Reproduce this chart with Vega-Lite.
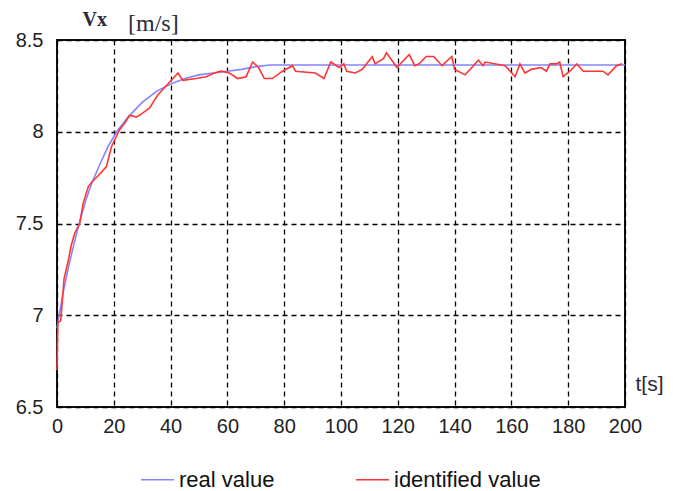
{
  "$schema": "https://vega.github.io/schema/vega-lite/v6.json",
  "width": 568,
  "height": 367,
  "autosize": {"type": "none"},
  "padding": {"left": 57, "top": 40, "right": 48, "bottom": 84},
  "background": "white",
  "title": {
    "text": "[m/s]",
    "anchor": "start",
    "frame": "group",
    "orient": "top",
    "font": "Liberation Serif",
    "fontSize": 24,
    "fontWeight": "normal",
    "color": "#2a2a3a",
    "baseline": "alphabetic",
    "offset": -46,
    "dx": 71
  },
  "config": {
    "font": "Liberation Sans",
    "view": {"stroke": "#111", "strokeWidth": 2},
    "axis": {
      "labelFont": "Liberation Sans",
      "labelFontSize": 20,
      "labelColor": "#222",
      "labelFlush": false,
      "ticks": false,
      "tickSize": 0,
      "domain": false,
      "grid": true,
      "gridColor": "#000",
      "gridDash": [5, 4],
      "gridWidth": 1.3,
      "gridOpacity": 1
    }
  },
  "data": {
    "values": [
      {"t": 0, "v": 6.93, "s": "real value"},
      {"t": 1, "v": 7.02, "s": "real value"},
      {"t": 2, "v": 7.11, "s": "real value"},
      {"t": 4, "v": 7.26, "s": "real value"},
      {"t": 6, "v": 7.39, "s": "real value"},
      {"t": 8, "v": 7.51, "s": "real value"},
      {"t": 10, "v": 7.62, "s": "real value"},
      {"t": 12, "v": 7.71, "s": "real value"},
      {"t": 15, "v": 7.82, "s": "real value"},
      {"t": 18, "v": 7.92, "s": "real value"},
      {"t": 21, "v": 8.0, "s": "real value"},
      {"t": 25, "v": 8.08, "s": "real value"},
      {"t": 30, "v": 8.16, "s": "real value"},
      {"t": 35, "v": 8.22, "s": "real value"},
      {"t": 40, "v": 8.26, "s": "real value"},
      {"t": 45, "v": 8.29, "s": "real value"},
      {"t": 50, "v": 8.31, "s": "real value"},
      {"t": 55, "v": 8.32, "s": "real value"},
      {"t": 60, "v": 8.33, "s": "real value"},
      {"t": 65, "v": 8.34, "s": "real value"},
      {"t": 70, "v": 8.355, "s": "real value"},
      {"t": 75, "v": 8.364, "s": "real value"},
      {"t": 100, "v": 8.364, "s": "real value"},
      {"t": 150, "v": 8.364, "s": "real value"},
      {"t": 200, "v": 8.364, "s": "real value"},
      {"t": 0, "v": 6.70, "s": "identified value"},
      {"t": 0.3, "v": 6.96, "s": "identified value"},
      {"t": 1.3, "v": 6.97, "s": "identified value"},
      {"t": 2.5, "v": 7.20, "s": "identified value"},
      {"t": 4, "v": 7.30, "s": "identified value"},
      {"t": 5, "v": 7.38, "s": "identified value"},
      {"t": 6.3, "v": 7.45, "s": "identified value"},
      {"t": 8, "v": 7.50, "s": "identified value"},
      {"t": 9.2, "v": 7.61, "s": "identified value"},
      {"t": 11, "v": 7.70, "s": "identified value"},
      {"t": 12.5, "v": 7.73, "s": "identified value"},
      {"t": 14.5, "v": 7.76, "s": "identified value"},
      {"t": 17.4, "v": 7.81, "s": "identified value"},
      {"t": 19.2, "v": 7.92, "s": "identified value"},
      {"t": 22, "v": 8.01, "s": "identified value"},
      {"t": 24, "v": 8.05, "s": "identified value"},
      {"t": 25.6, "v": 8.09, "s": "identified value"},
      {"t": 28, "v": 8.08, "s": "identified value"},
      {"t": 30, "v": 8.10, "s": "identified value"},
      {"t": 32.6, "v": 8.13, "s": "identified value"},
      {"t": 35.5, "v": 8.20, "s": "identified value"},
      {"t": 39.6, "v": 8.27, "s": "identified value"},
      {"t": 42.6, "v": 8.32, "s": "identified value"},
      {"t": 44.3, "v": 8.28, "s": "identified value"},
      {"t": 49, "v": 8.29, "s": "identified value"},
      {"t": 52.5, "v": 8.30, "s": "identified value"},
      {"t": 55.4, "v": 8.32, "s": "identified value"},
      {"t": 57.8, "v": 8.33, "s": "identified value"},
      {"t": 60.7, "v": 8.32, "s": "identified value"},
      {"t": 63.6, "v": 8.29, "s": "identified value"},
      {"t": 66.6, "v": 8.30, "s": "identified value"},
      {"t": 68.9, "v": 8.38, "s": "identified value"},
      {"t": 71, "v": 8.35, "s": "identified value"},
      {"t": 73, "v": 8.29, "s": "identified value"},
      {"t": 75.8, "v": 8.29, "s": "identified value"},
      {"t": 79.4, "v": 8.33, "s": "identified value"},
      {"t": 82.9, "v": 8.36, "s": "identified value"},
      {"t": 84, "v": 8.33, "s": "identified value"},
      {"t": 91, "v": 8.32, "s": "identified value"},
      {"t": 94, "v": 8.29, "s": "identified value"},
      {"t": 96.4, "v": 8.38, "s": "identified value"},
      {"t": 99.3, "v": 8.35, "s": "identified value"},
      {"t": 101, "v": 8.37, "s": "identified value"},
      {"t": 102, "v": 8.33, "s": "identified value"},
      {"t": 105, "v": 8.32, "s": "identified value"},
      {"t": 107.5, "v": 8.34, "s": "identified value"},
      {"t": 111, "v": 8.41, "s": "identified value"},
      {"t": 112, "v": 8.37, "s": "identified value"},
      {"t": 115, "v": 8.40, "s": "identified value"},
      {"t": 116, "v": 8.43, "s": "identified value"},
      {"t": 119.7, "v": 8.35, "s": "identified value"},
      {"t": 121.5, "v": 8.38, "s": "identified value"},
      {"t": 124, "v": 8.42, "s": "identified value"},
      {"t": 126, "v": 8.36, "s": "identified value"},
      {"t": 127.5, "v": 8.37, "s": "identified value"},
      {"t": 130, "v": 8.41, "s": "identified value"},
      {"t": 132.6, "v": 8.41, "s": "identified value"},
      {"t": 135.6, "v": 8.36, "s": "identified value"},
      {"t": 139, "v": 8.41, "s": "identified value"},
      {"t": 140, "v": 8.34, "s": "identified value"},
      {"t": 143.7, "v": 8.31, "s": "identified value"},
      {"t": 148.4, "v": 8.39, "s": "identified value"},
      {"t": 150, "v": 8.36, "s": "identified value"},
      {"t": 150.8, "v": 8.38, "s": "identified value"},
      {"t": 157.8, "v": 8.36, "s": "identified value"},
      {"t": 159, "v": 8.34, "s": "identified value"},
      {"t": 161.3, "v": 8.30, "s": "identified value"},
      {"t": 163, "v": 8.37, "s": "identified value"},
      {"t": 164.8, "v": 8.32, "s": "identified value"},
      {"t": 167, "v": 8.34, "s": "identified value"},
      {"t": 170.5, "v": 8.35, "s": "identified value"},
      {"t": 172.3, "v": 8.33, "s": "identified value"},
      {"t": 173.6, "v": 8.37, "s": "identified value"},
      {"t": 175.8, "v": 8.37, "s": "identified value"},
      {"t": 177, "v": 8.38, "s": "identified value"},
      {"t": 178.2, "v": 8.30, "s": "identified value"},
      {"t": 180.6, "v": 8.33, "s": "identified value"},
      {"t": 183, "v": 8.37, "s": "identified value"},
      {"t": 185.3, "v": 8.33, "s": "identified value"},
      {"t": 192.3, "v": 8.33, "s": "identified value"},
      {"t": 194, "v": 8.31, "s": "identified value"},
      {"t": 197, "v": 8.36, "s": "identified value"},
      {"t": 199, "v": 8.37, "s": "identified value"}
    ]
  },
  "mark": {"type": "line", "strokeWidth": 1.6},
  "encoding": {
    "x": {
      "field": "t",
      "type": "quantitative",
      "scale": {"domain": [0, 200], "nice": false},
      "axis": {
        "values": [0, 20, 40, 60, 80, 100, 120, 140, 160, 180, 200],
        "labelPadding": 9,
        "title": "t[s]",
        "titleFont": "Liberation Sans",
        "titleFontSize": 21,
        "titleFontWeight": "normal",
        "titleColor": "#2a2a3a",
        "titleAnchor": "start",
        "titleAlign": "left",
        "titleBaseline": "alphabetic",
        "titleX": 578,
        "titleY": -17
      }
    },
    "y": {
      "field": "v",
      "type": "quantitative",
      "scale": {"domain": [6.5, 8.5], "nice": false, "zero": false},
      "axis": {
        "values": [6.5, 7, 7.5, 8, 8.5],
        "labelExpr": "toString(datum.value)",
        "labelPadding": 14,
        "title": "Vx",
        "titleFont": "Liberation Serif",
        "titleFontSize": 20,
        "titleFontWeight": "bold",
        "titleColor": "#2a2a3a",
        "titleAngle": 0,
        "titleAlign": "left",
        "titleBaseline": "alphabetic",
        "titleX": 25,
        "titleY": -15
      }
    },
    "color": {
      "field": "s",
      "type": "nominal",
      "sort": ["real value", "identified value"],
      "scale": {"domain": ["real value", "identified value"], "range": ["#8585ff", "#ff3535"]},
      "legend": {
        "title": null,
        "orient": "none",
        "direction": "horizontal",
        "legendX": 83,
        "legendY": 422,
        "padding": 0,
        "symbolType": "stroke",
        "symbolSize": 1089,
        "symbolStrokeWidth": 1.5,
        "labelFont": "Liberation Sans",
        "labelFontSize": 22,
        "labelColor": "#111",
        "labelOffset": 4,
        "columnPadding": 78
      }
    }
  }
}
